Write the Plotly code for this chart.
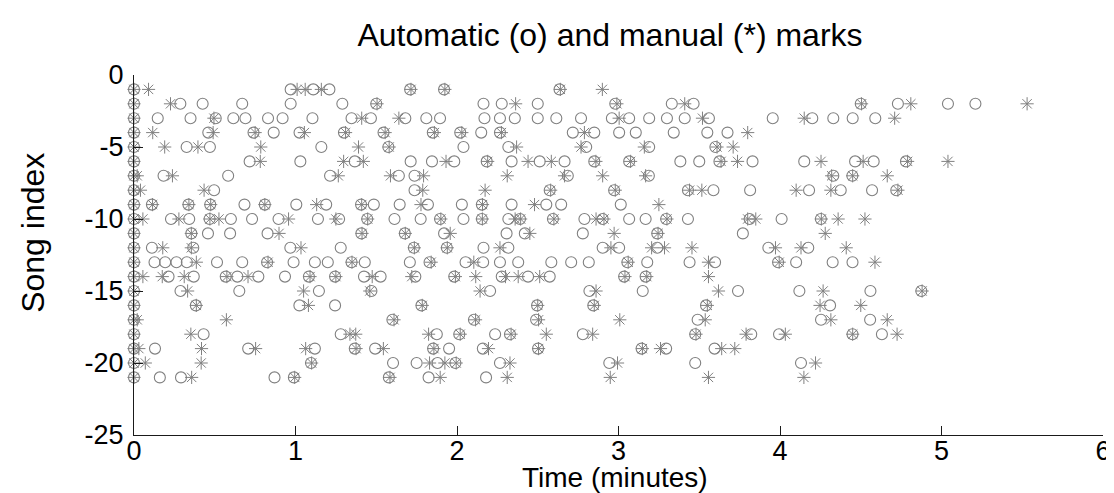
import plotly.graph_objects as go

# Song indices (plotted as negative y)
song_index = list(range(1, 22))

# Automatic marks (o), minutes, one list per song
auto_marks = [
    [0, 0.97, 1.11, 1.21, 1.71, 1.92, 2.635],
    [0, 0.287, 0.425, 0.67, 0.97, 1.29, 1.50, 2.164, 2.277, 2.50, 2.98, 3.33, 3.465, 4.50, 4.73, 5.04, 5.21],
    [0, 0.147, 0.35, 0.506, 0.615, 0.69, 0.83, 0.92, 1.105, 1.347, 1.467, 1.68, 1.81, 1.895, 2.17, 2.266, 2.358,
     2.50, 2.615, 2.768, 2.959, 3.066, 3.19, 3.30, 3.41, 3.56, 3.955, 4.20, 4.33, 4.45, 4.59],
    [0, 0.46, 0.74, 0.865, 1.025, 1.30, 1.545, 1.85, 2.02, 2.15, 2.266, 2.717, 2.85, 3.004, 3.107, 3.342, 3.55, 3.675],
    [0, 0.326, 0.47, 1.16, 1.575, 2.04, 2.318, 2.80, 3.19, 3.60],
    [0, 0.716, 1.03, 1.367, 1.713, 1.845, 1.983, 2.184, 2.338, 2.512, 2.666, 2.85, 3.066, 3.383, 3.50, 3.625, 3.83,
     4.15, 4.465, 4.58, 4.78],
    [0, 0.183, 0.583, 1.214, 1.64, 1.737, 2.686, 3.188, 4.33, 4.448],
    [0, 0.496, 1.737, 2.574, 2.973, 3.43, 3.588, 3.815, 4.18, 4.376, 4.57, 4.72],
    [0, 0.111, 0.337, 0.472, 0.684, 0.81, 1.005, 1.19, 1.406, 1.485, 1.645, 1.82, 2.03, 2.154, 2.338, 2.553, 2.645, 3.014],
    [0, 0.229, 0.342, 0.468, 0.60, 0.731, 0.895, 1.139, 1.27, 1.444, 1.613, 1.775, 1.895, 2.04, 2.154, 2.318, 2.39,
     2.594, 2.789, 2.902, 3.066, 3.168, 3.295, 3.43, 3.812, 4.01, 4.253],
    [0, 0.355, 0.458, 0.595, 0.827, 1.408, 1.677, 1.92, 2.307, 2.42, 2.779, 3.24, 3.77],
    [0, 0.111, 0.367, 0.968, 1.28, 1.733, 1.937, 2.164, 2.318, 2.902, 3.004, 3.24, 3.928, 4.175],
    [0, 0.127, 0.193, 0.263, 0.327, 0.514, 0.67, 0.824, 0.988, 1.12, 1.20, 1.347, 1.429, 1.708, 1.83, 2.053, 2.162,
     2.266, 2.379, 2.584, 2.707, 2.816, 3.055, 3.178, 3.44, 3.598, 3.988, 4.10, 4.326, 4.449],
    [0, 0.214, 0.37, 0.568, 0.64, 0.77, 0.935, 1.083, 1.245, 1.424, 1.527, 1.742, 1.983, 2.277, 2.44, 2.574, 3.035, 3.168],
    [0, 0.288, 0.652, 1.145, 1.47, 2.205, 2.82, 3.15, 3.74, 4.12, 4.56, 4.875],
    [0, 0.383, 1.024, 1.245, 1.78, 2.496, 2.844, 3.542, 4.31],
    [0, 1.60, 2.105, 2.49, 3.49, 4.254, 4.558],
    [0, 0.431, 1.28, 1.875, 2.014, 2.236, 2.328, 2.779, 3.475, 3.822, 3.994, 4.449, 4.631],
    [0, 0.13, 0.707, 1.12, 1.367, 1.493, 1.852, 1.951, 2.16, 2.502, 3.143, 3.295, 3.595],
    [0, 1.096, 1.604, 1.75, 1.88, 1.99, 2.266, 2.943, 3.475, 4.13],
    [0, 0.16, 0.291, 0.87, 0.99, 1.578, 1.824, 2.18],
]

# Manual marks (*), minutes, one list per song
manual_marks = [
    [0, 0.09, 1.01, 1.06, 1.16, 1.715, 1.925, 2.64, 2.90],
    [0, 0.226, 1.505, 2.363, 2.99, 3.41, 4.505, 4.81, 5.53],
    [0, 0.495, 1.41, 1.64, 3.004, 3.52, 4.15, 4.71],
    [0, 0.116, 0.49, 0.75, 1.055, 1.31, 1.555, 1.86, 2.03, 2.275, 2.789, 3.80],
    [0, 0.19, 0.396, 0.785, 1.39, 1.58, 2.369, 2.768, 3.16, 3.61, 3.71],
    [0, 0.782, 1.298, 1.42, 1.932, 2.19, 2.44, 2.584, 2.86, 3.075, 3.635, 3.737, 4.254, 4.515, 4.79, 5.04],
    [0, 0.02, 0.238, 1.265, 1.588, 1.793, 2.311, 2.666, 2.902, 3.168, 4.32, 4.45, 4.664],
    [0, 0.04, 0.434, 1.788, 2.174, 2.58, 2.98, 3.44, 3.516, 4.10, 4.315, 4.73],
    [0, 0.115, 0.34, 0.475, 0.81, 1.131, 1.41, 1.777, 2.158, 2.48, 3.25],
    [0, 0.055, 0.278, 0.47, 0.526, 0.957, 1.25, 1.447, 1.90, 2.157, 2.36, 2.394, 2.60, 2.861, 2.91, 3.30, 3.80,
     3.85, 4.256, 4.36, 4.526],
    [0, 0.355, 0.898, 1.412, 1.68, 1.958, 2.451, 2.973, 3.245, 4.28],
    [0, 0.178, 0.355, 1.034, 1.736, 1.94, 2.266, 2.953, 3.205, 3.285, 3.455, 3.972, 4.13, 4.41],
    [0, 0.386, 0.83, 1.35, 1.84, 2.104, 3.06, 3.557, 3.995, 4.588],
    [0, 0.055, 0.175, 0.311, 0.575, 0.706, 1.09, 1.25, 1.475, 1.72, 1.99, 2.116, 2.30, 2.379, 2.512, 3.04, 3.175, 3.557],
    [0, 0.332, 1.05, 1.46, 2.143, 2.861, 3.619, 4.267, 4.88],
    [0, 0.386, 1.08, 1.785, 2.50, 2.85, 3.55, 4.248, 4.50],
    [0, 0.02, 0.572, 1.61, 2.115, 2.505, 3.008, 3.537, 4.315, 4.664],
    [0, 0.352, 1.337, 1.373, 1.824, 2.02, 2.335, 2.553, 2.84, 3.48, 3.79, 4.033, 4.45, 4.725],
    [0, 0.03, 0.418, 0.753, 1.063, 1.375, 1.544, 1.857, 2.195, 2.505, 3.148, 3.26, 3.639, 3.72],
    [0, 0.07, 0.416, 1.10, 1.83, 1.925, 1.995, 2.328, 2.994, 4.22],
    [0, 0.357, 0.995, 1.585, 1.896, 2.311, 2.949, 3.557, 4.148],
]

x_ticks = [0, 1, 2, 3, 4, 5, 6]
x_tick_labels = ["0", "1", "2", "3", "4", "5", "6"]
y_ticks = [0, -5, -10, -15, -20, -25]
y_tick_labels = ["0", "-5", "-10", "-15", "-20", "-25"]

FONT = "Liberation Sans, Arial, Helvetica, sans-serif"
GRAY = "#808080"

ax, ay = [], []
for idx, times in zip(song_index, auto_marks):
    ax += times
    ay += [-idx] * len(times)
mx, my = [], []
for idx, times in zip(song_index, manual_marks):
    mx += times
    my += [-idx] * len(times)

fig = go.Figure()
fig.add_trace(go.Scatter(
    x=ax, y=ay, mode="markers", name="automatic", cliponaxis=False,
    marker=dict(symbol="circle-open", size=11, color=GRAY, line=dict(width=1.1, color=GRAY)),
))
fig.add_trace(go.Scatter(
    x=mx, y=my, mode="markers", name="manual", cliponaxis=False,
    marker=dict(symbol="asterisk-open", size=11, color=GRAY, line=dict(width=1, color=GRAY)),
))

W, H = 1114, 493
L, R, T, B = 126, 11, 67, 66
pw, ph = W - L - R, H - T - B

axis_common = dict(
    showgrid=False, zeroline=False, showline=True, linecolor="#1a1a1a", linewidth=1,
    ticks="inside", ticklen=9, tickwidth=1, tickcolor="#1a1a1a",
    tickfont=dict(family=FONT, size=27, color="black"), mirror=False,
)

fig.update_layout(
    width=W, height=H,
    margin=dict(l=L, r=R, t=T, b=B, pad=0),
    paper_bgcolor="white", plot_bgcolor="white",
    showlegend=False,
    title=dict(
        text="Automatic (o) and manual (*) marks",
        font=dict(family=FONT, size=32, color="black"),
        xref="container", yref="container",
        x=602 / W, y=1 - 27 / H, xanchor="center", yanchor="middle",
    ),
    xaxis=dict(range=[0, 6], tickvals=x_ticks, ticktext=x_tick_labels,
               ticklabelstandoff=-8, **axis_common),
    yaxis=dict(range=[-25, 0], tickvals=y_ticks, ticktext=y_tick_labels,
               ticklabelstandoff=4, **axis_common),
    annotations=[
        dict(text="Time (minutes)", xref="paper", yref="paper",
             x=(611 - L) / pw, y=(H - B - 469) / ph, xanchor="center", yanchor="middle",
             showarrow=False, borderpad=0, font=dict(family=FONT, size=28, color="black")),
        dict(text="Song index", xref="paper", yref="paper", textangle=-90,
             x=(24 - L) / pw, y=(H - B - 225) / ph, xanchor="center", yanchor="middle",
             showarrow=False, font=dict(family=FONT, size=32, color="black")),
    ],
)

fig.write_html("out.html")
